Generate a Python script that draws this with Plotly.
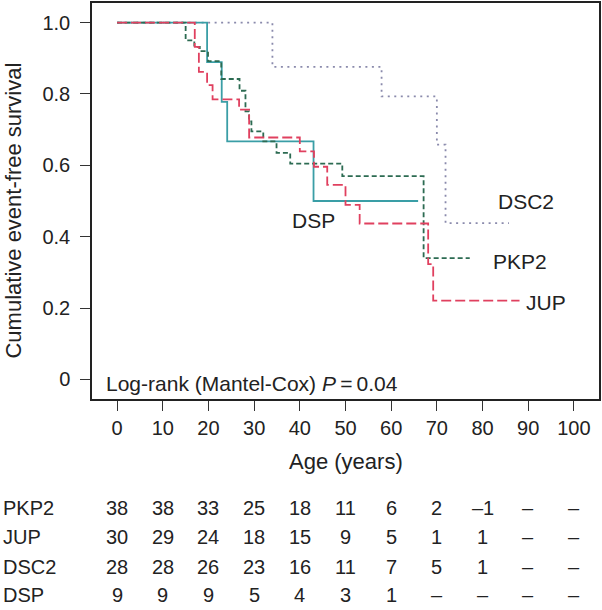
import plotly.graph_objects as go

# ---- Kaplan-Meier step data (age in years, survival) ----
dsc2_age = [0, 34.0, 57.9, 70.0, 71.9, 85.8]
dsc2_surv = [1.0, 0.876, 0.793, 0.658, 0.438, 0.438]

pkp2_age = [0, 15.0, 16.9, 18.1, 19.9, 22.8, 26.8, 28.1, 28.9, 29.4, 32.0, 34.9, 37.9, 49.3, 67.1, 77.2]
pkp2_surv = [1.0, 0.950, 0.932, 0.920, 0.892, 0.842, 0.809, 0.751, 0.723, 0.695, 0.667, 0.635, 0.605, 0.570, 0.340, 0.340]

jup_age = [0, 17.0, 17.9, 19.7, 20.9, 26.7, 28.9, 40.0, 43.1, 46.0, 50.0, 53.1, 68.1, 69.2, 88.1]
jup_surv = [1.0, 0.932, 0.862, 0.825, 0.785, 0.756, 0.678, 0.639, 0.596, 0.545, 0.489, 0.437, 0.323, 0.221, 0.221]

dsp_age = [0, 19.7, 22.9, 24.1, 43.0, 65.9]
dsp_surv = [1.0, 0.889, 0.778, 0.667, 0.500, 0.500]

# curve labels (name, x, y)
label_names = ["DSC2", "PKP2", "JUP", "DSP"]
label_x = [89.5, 88.2, 94.0, 43.1]
label_y = [0.498, 0.330, 0.216, 0.444]

# ---- numbers at risk ----
risk_ages = [0, 10, 20, 30, 40, 50, 60, 70, 80, 90, 100]
risk_groups = ["PKP2", "JUP", "DSC2", "DSP"]
risk_pkp2 = ["38", "38", "33", "25", "18", "11", "6", "2", "\u20131", "\u2013", "\u2013"]
risk_jup = ["30", "29", "24", "18", "15", "9", "5", "1", "1", "\u2013", "\u2013"]
risk_dsc2 = ["28", "28", "26", "23", "16", "11", "7", "5", "1", "\u2013", "\u2013"]
risk_dsp = ["9", "9", "9", "5", "4", "3", "1", "\u2013", "\u2013", "\u2013", "\u2013"]
risk_rows = [risk_pkp2, risk_jup, risk_dsc2, risk_dsp]

x_ticks = [0, 10, 20, 30, 40, 50, 60, 70, 80, 90, 100]
y_ticks = [0, 0.2, 0.4, 0.6, 0.8, 1.0]
y_ticktext = ["0", "0.2", "0.4", "0.6", "0.8", "1.0"]

FONT = "Liberation Sans, Arial, sans-serif"
TXT = "#222222"

fig = go.Figure()
fig.add_trace(go.Scatter(x=dsc2_age, y=dsc2_surv, mode="lines", line_shape="hv",
                         line=dict(color="#8a8aac", width=1.8, dash="2px,4.5px"), name="DSC2"))
fig.add_trace(go.Scatter(x=dsp_age, y=dsp_surv, mode="lines", line_shape="hv",
                         line=dict(color="#3a9ea6", width=1.8), name="DSP"))
fig.add_trace(go.Scatter(x=pkp2_age, y=pkp2_surv, mode="lines", line_shape="hv",
                         line=dict(color="#2c6b52", width=1.8, dash="5px,3px"), name="PKP2"))
fig.add_trace(go.Scatter(x=jup_age, y=jup_surv, mode="lines", line_shape="hv",
                         line=dict(color="#e0405f", width=1.8, dash="10px,4px"), name="JUP"))

annotations = []
for n, lx, ly in zip(label_names, label_x, label_y):
    annotations.append(dict(x=lx, y=ly, xref="x", yref="y", text=n, showarrow=False,
                            font=dict(size=21, color=TXT, family=FONT),
                            xanchor="center", yanchor="middle"))

annotations.append(dict(x=-2.8, y=-0.011, xref="x", yref="y",
                        text="Log-rank (Mantel-Cox) <i>P</i>\u2009=\u20090.04", showarrow=False,
                        font=dict(size=21, color=TXT, family=FONT),
                        xanchor="left", yanchor="middle"))

# axis titles
annotations.append(dict(x=50, y=-0.157, xref="x", yref="paper", text="Age (years)",
                        showarrow=False, font=dict(size=22, color=TXT, family=FONT),
                        xanchor="center", yanchor="middle"))
annotations.append(dict(x=-0.155, y=0.477, xref="paper", yref="paper",
                        text="Cumulative event-free survival", textangle=-90,
                        showarrow=False, font=dict(size=22, color=TXT, family=FONT),
                        xanchor="center", yanchor="middle"))

# risk table
row_y = [-0.2746, -0.349, -0.423, -0.495]
for g, vals, ry in zip(risk_groups, risk_rows, row_y):
    annotations.append(dict(x=-0.179, y=ry, xref="paper", yref="paper", text=g,
                            showarrow=False, font=dict(size=20, color=TXT, family=FONT),
                            xanchor="left", yanchor="middle"))
    for a, v in zip(risk_ages, vals):
        annotations.append(dict(x=a, y=ry, xref="x", yref="paper", text=v,
                                showarrow=False, font=dict(size=20, color=TXT, family=FONT),
                                xanchor="center", yanchor="middle"))

fig.update_layout(
    width=602, height=610,
    margin=dict(l=92, r=3, t=1, b=211),
    paper_bgcolor="white", plot_bgcolor="white",
    showlegend=False,
    annotations=annotations,
    xaxis=dict(range=[-5.5, 105.5], tickvals=x_ticks, ticks="outside", ticklen=10,
               tickwidth=1.2, tickcolor="#333", showline=True, mirror=True,
               linecolor="#222", linewidth=1.5, showgrid=False, zeroline=False,
               tickfont=dict(size=20, color=TXT, family=FONT)),
    yaxis=dict(range=[-0.055, 1.055], tickvals=y_ticks, ticktext=y_ticktext,
               ticks="outside", ticklen=10, tickwidth=1.2, tickcolor="#333",
               showline=True, mirror=True, linecolor="#222", linewidth=1.5,
               showgrid=False, zeroline=False, ticklabelstandoff=6,
               tickfont=dict(size=20, color=TXT, family=FONT)),
)

fig.write_html("out.html", config={"displayModeBar": False},
               post_script="document.body.style.margin='0px';document.body.style.overflow='hidden';")
